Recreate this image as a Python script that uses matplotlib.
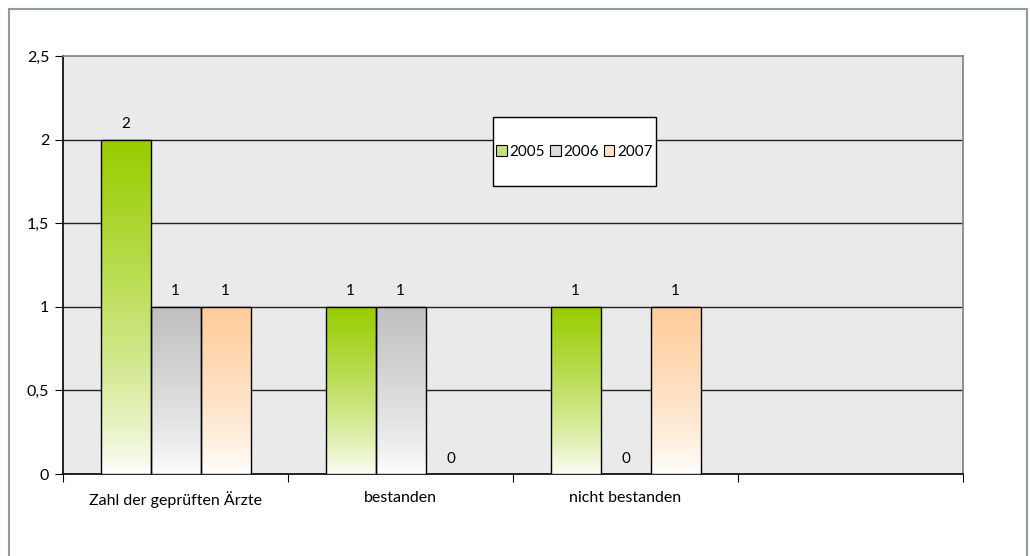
import matplotlib
matplotlib.use("Agg")
import matplotlib.pyplot as plt
import numpy as np
from matplotlib.patches import Rectangle, Patch
from matplotlib.colors import LinearSegmentedColormap

categories = ["Zahl der geprüften Ärzte", "bestanden", "nicht bestanden", ""]
years = ["2005", "2006", "2007"]
v2005 = [2, 1, 1, None]
v2006 = [1, 1, 0, None]
v2007 = [1, 0, 1, None]
series = [v2005, v2006, v2007]
top_colors = ["#99CC00", "#C0C0C0", "#FFCC99"]
legend_colors = ["#C4E27A", "#DCDCDC", "#FFE3C8"]

plt.rcParams["font.family"] = ["Lato", "DejaVu Sans"]

fig = plt.figure(figsize=(10.3, 5.56), dpi=100)
# outer frame like the excel chart area
fig.patches.append(Rectangle((9 / 1030, -0.1), 1018 / 1030, (556 - 9) / 556 + 0.1,
                             transform=fig.transFigure, fill=False,
                             edgecolor="#8C9BA6", linewidth=1.5))

ax = fig.add_axes([63 / 1030, 82 / 556, 900 / 1030, 418 / 556])
ax.set_facecolor("#EAEAEA")
ax.set_xlim(-0.5, 3.5)
ax.set_ylim(0, 2.5)

w = 2 / 9
grad = np.linspace(0, 1, 256).reshape(-1, 1)
for k, vals in enumerate(series):
    cmap = LinearSegmentedColormap.from_list("g%d" % k, ["white", top_colors[k]])
    for i, v in enumerate(vals):
        if v is None:
            continue
        x0 = i + (k - 1) * w - w / 2
        if v > 0:
            im = ax.imshow(grad ** 0.75, cmap=cmap, extent=(x0, x0 + w, 0, v),
                           origin="lower", aspect="auto", zorder=3)
            r = Rectangle((x0, 0), w, v, fill=False, edgecolor="black",
                          linewidth=1.0, zorder=4)
            ax.add_patch(r)
            im.set_clip_path(r)
        ax.annotate(str(v), (x0 + w / 2, v), xytext=(0, 6), textcoords="offset points",
                    ha="center", va="bottom", fontsize=11, zorder=5)

ax.set_yticks([0, 0.5, 1, 1.5, 2, 2.5])
ax.set_yticklabels(["0", "0,5", "1", "1,5", "2", "2,5"], fontsize=11.5)
for y in [0.5, 1, 1.5, 2]:
    ax.axhline(y, color="#222222", linewidth=1.0, zorder=1)

ax.set_xticks([-0.5, 0.5, 1.5, 2.5, 3.5])
ax.set_xticklabels([])
ax.set_xticks(range(len(categories)), minor=True)
ax.set_xticklabels(categories, minor=True, fontsize=11.5)
ax.tick_params(axis="x", which="minor", length=0, pad=12)
ax.tick_params(axis="x", which="major", length=6, direction="out")
ax.tick_params(axis="y", length=6, direction="out", pad=4)

ax.spines["left"].set_color("black")
ax.spines["bottom"].set_color("black")
ax.spines["top"].set_color("#808080")
ax.spines["right"].set_color("#808080")
for s in ax.spines.values():
    s.set_linewidth(1.2)

# legend box
fig.patches.append(Rectangle((493 / 1030, 1 - 186 / 556), 163 / 1030, 69 / 556,
                             transform=fig.transFigure, facecolor="white",
                             edgecolor="black", linewidth=1.0, zorder=4))
handles = [Patch(facecolor=c, edgecolor="black", linewidth=0.8) for c in legend_colors]
leg = fig.legend(handles, years, loc="center", bbox_to_anchor=(574.5 / 1030, 1 - 151.5 / 556),
                 ncol=3, frameon=False, fontsize=11, handlelength=0.7, handleheight=0.7,
                 handletextpad=0.2, columnspacing=0.3)
leg.set_zorder(5)

fig.savefig("out.png", dpi=100)
